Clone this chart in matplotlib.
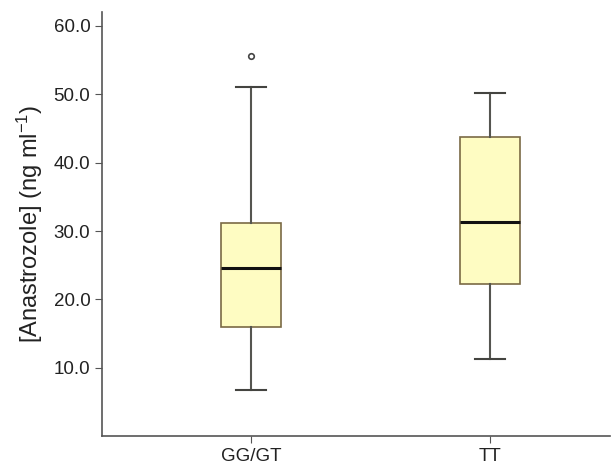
import matplotlib
matplotlib.use('Agg')
import matplotlib.pyplot as plt

plt.rcParams['font.family'] = ['Liberation Sans', 'DejaVu Sans']
plt.rcParams['mathtext.default'] = 'regular'

# Datos
grupos = ['GG/GT', 'TT']
bigote_inf = [6.7, 11.3]
q1 = [16.0, 22.3]
mediana = [24.6, 31.3]
q3 = [31.2, 43.7]
bigote_sup = [51.0, 50.2]
atipicos = [[55.6], []]

stats = []
for i in range(len(grupos)):
    stats.append({'label': grupos[i], 'whislo': bigote_inf[i], 'q1': q1[i],
                  'med': mediana[i], 'q3': q3[i], 'whishi': bigote_sup[i],
                  'fliers': atipicos[i]})

fig = plt.figure(figsize=(6.12, 4.70), dpi=100)
ax = fig.add_axes([0.167, 0.072, 0.83, 0.902])

ax.bxp(stats, positions=[0, 1], widths=0.25, patch_artist=True,
       boxprops=dict(facecolor='#fefcc2', edgecolor='#7a6a45', linewidth=1.2),
       medianprops=dict(color='#111111', linewidth=2.2),
       whiskerprops=dict(color='#555550', linewidth=1.5),
       capprops=dict(color='#444440', linewidth=1.5),
       flierprops=dict(marker='o', markersize=4, markerfacecolor='none',
                       markeredgecolor='#444444', markeredgewidth=1.2))

ax.set_xlim(-0.62, 1.5)
ax.set_ylim(0, 62)
ax.set_yticks([10, 20, 30, 40, 50, 60])
ax.set_yticklabels(['%.1f' % v for v in [10, 20, 30, 40, 50, 60]])
ax.set_ylabel('[Anastrozole] (ng ml$^{\\mathregular{-1}}$)', fontsize=17, color='#222222', labelpad=6)

for lado in ['top', 'right']:
    ax.spines[lado].set_visible(False)
for lado in ['left', 'bottom']:
    ax.spines[lado].set_color('#555555')
    ax.spines[lado].set_linewidth(1.2)
ax.tick_params(axis='both', colors='#555555', labelcolor='#222222', labelsize=13.5, length=5)

plt.savefig('out.png', dpi=100)
